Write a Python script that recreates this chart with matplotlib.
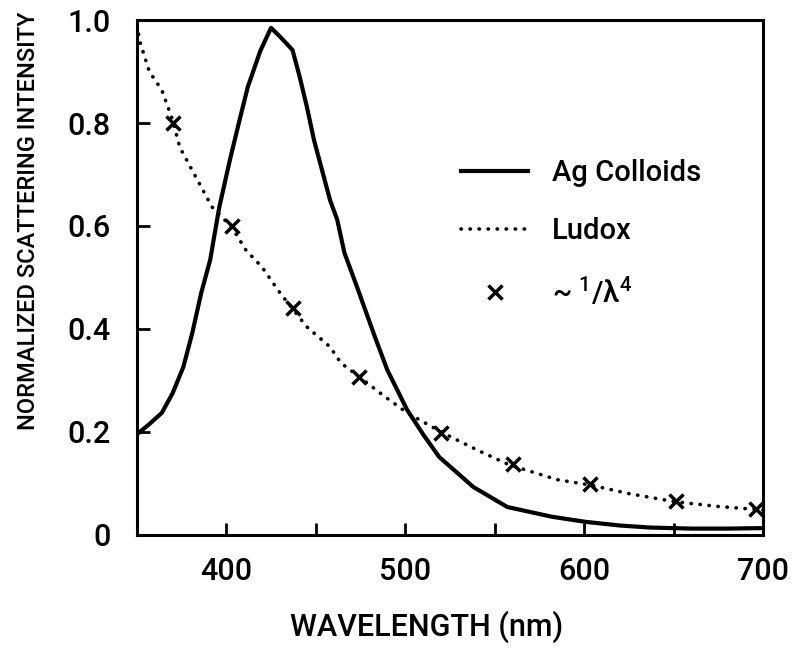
import numpy as np
import matplotlib
matplotlib.use("Agg")
import matplotlib.pyplot as plt
from matplotlib.lines import Line2D

plt.rcParams['font.family'] = ['Roboto', 'DejaVu Sans']
plt.rcParams['font.weight'] = 'medium'
plt.rcParams['axes.labelweight'] = 'medium'
plt.rcParams['mathtext.fontset'] = 'custom'
plt.rcParams['mathtext.rm'] = 'Roboto:medium'

# Ag colloids (solid)
ag_wl = [350, 357, 364, 370, 376, 381, 386, 391, 396, 402, 407, 412, 419, 425,
         430, 437, 441, 445, 449, 453, 458, 462, 466, 473, 483, 490, 501, 510,
         519, 538, 557, 582, 601, 620, 637, 660, 680, 700]
ag_int = [0.195, 0.215, 0.237, 0.275, 0.326, 0.392, 0.47, 0.534, 0.635, 0.728,
          0.80, 0.87, 0.94, 0.985, 0.968, 0.942, 0.89, 0.832, 0.767, 0.715,
          0.65, 0.612, 0.548, 0.482, 0.385, 0.32, 0.243, 0.195, 0.151, 0.093,
          0.054, 0.035, 0.025, 0.018, 0.014, 0.012, 0.012, 0.013]

# Ludox (dotted)
lud_wl = [350, 352, 357, 364, 370, 374, 383, 392, 403, 411, 420, 430, 445, 458,
          464, 475, 488, 501, 521, 540, 558, 585, 603, 625, 651, 675, 697, 700]
lud_int = [0.99, 0.955, 0.90, 0.864, 0.806, 0.753, 0.695, 0.637, 0.598, 0.553,
           0.52, 0.47, 0.404, 0.365, 0.334, 0.305, 0.27, 0.237, 0.198, 0.165,
           0.136, 0.107, 0.097, 0.08, 0.064, 0.055, 0.049, 0.048]

# ~1/lambda^4 markers
mk_wl = [370, 403, 437, 474, 520, 560, 603, 651, 696]
mk_int = [0.80, 0.60, 0.44, 0.307, 0.198, 0.137, 0.098, 0.065, 0.05]

fig = plt.figure(figsize=(8, 6.49), dpi=100)
ax = fig.add_axes([0.171, 0.176, 0.783, 0.793])

ax.plot(ag_wl, ag_int, color='black', lw=3, solid_joinstyle='round')
ax.plot(lud_wl, lud_int, color='black', lw=2.6, linestyle=(0, (0.1, 2.4)),
        dash_capstyle='round')
ax.plot(mk_wl, mk_int, linestyle='none', marker='x', color='black',
        markersize=10, mew=2.5)

ax.set_xlim(350, 700)
ax.set_ylim(0, 1.0)
ax.set_xticks([400, 450, 500, 550, 600, 650, 700])
ax.set_xticklabels(['400', '', '500', '', '600', '', '700'])
ax.set_yticks([0, 0.2, 0.4, 0.6, 0.8, 1.0])
ax.set_yticklabels(['0', '0.2', '0.4', '0.6', '0.8', '1.0'])
ax.tick_params(direction='in', length=9, width=2, labelsize=22)
ax.tick_params(axis='x', pad=16)
ax.tick_params(axis='y', pad=19)
for s in ax.spines.values():
    s.set_linewidth(2.2)

ax.set_xlabel('WAVELENGTH (nm)', fontsize=22)
ax.xaxis.set_label_coords(0.463, -0.148)
ax.set_ylabel('NORMALIZED SCATTERING INTENSITY', fontsize=17)
ax.yaxis.set_label_coords(-0.155, 0.61)

handles = [
    Line2D([], [], color='black', lw=3),
    Line2D([], [], color='black', lw=2.6, linestyle=(0, (0.1, 2.4)),
           dash_capstyle='round'),
    Line2D([], [], linestyle='none', marker='x', color='black',
           markersize=10, mew=2.5),
]
labels = ['Ag Colloids', 'Ludox', '~ $^{1}$/λ$^{4}$']
ax.legend(handles, labels, loc='center left', bbox_to_anchor=(0.476, 0.585),
          frameon=False, fontsize=21, handlelength=2.3, handletextpad=0.8,
          labelspacing=1.05)

fig.savefig('out.png', dpi=100)
